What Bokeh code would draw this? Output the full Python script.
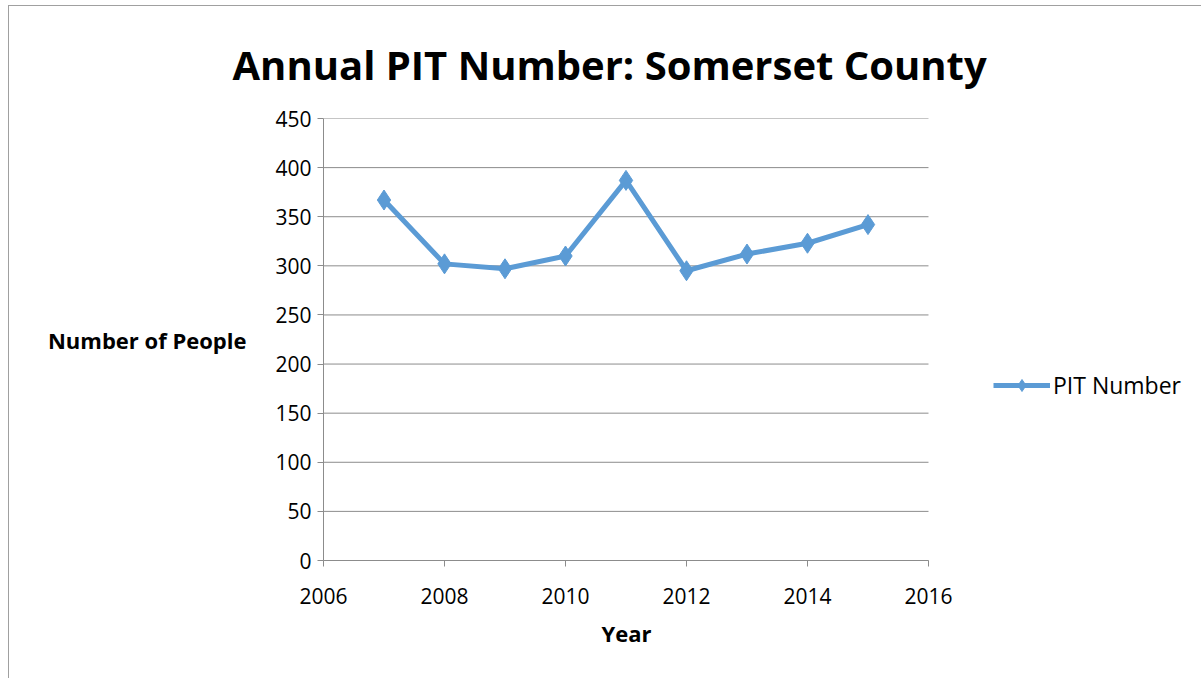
from bokeh.plotting import figure
from bokeh.models import Range1d, Legend, LegendItem, FixedTicker, Title
from bokeh.embed import file_html
from bokeh.resources import INLINE

years = [2007, 2008, 2009, 2010, 2011, 2012, 2013, 2014, 2015]
pit_number = [367, 302, 297, 310, 387, 295, 312, 323, 342]
x_ticks = [2006, 2008, 2010, 2012, 2014, 2016]
y_ticks = [0, 50, 100, 150, 200, 250, 300, 350, 400, 450]

FONT = "Open Sans"
BLUE = "#5B9BD5"
GRID = "#8c8c8c"

X0, X1 = x_ticks[0], x_ticks[-1]
# frame is widened to the right so that the legend can sit beside the plot area
X_EXT = X1 + 4.496

p = figure(width=1193, height=673, output_backend="svg", toolbar_location=None,
           x_range=Range1d(X0, X_EXT), y_range=Range1d(y_ticks[0], y_ticks[-1]),
           min_border_left=314, min_border_right=2, min_border_top=112, min_border_bottom=119)
p.styles = {"margin-left": "8px", "margin-top": "5px",
            "border-left": "1px solid #a0a0a0", "border-top": "1px solid #a0a0a0"}

p.title.text = "Annual PIT Number: Somerset County"
p.title.text_font = FONT
p.title.text_font_size = "40px"
p.title.text_font_style = "bold"
p.title.text_color = "#000000"
p.title.align = "left"
p.title.offset = -91
try:
    p.title.standoff = 54
except Exception:
    pass

p.outline_line_color = None
p.xgrid.grid_line_color = None
p.ygrid.grid_line_color = None

# horizontal gridlines limited to the axis extent
p.segment(x0=[X0] * len(y_ticks), x1=[X1] * len(y_ticks), y0=y_ticks, y1=y_ticks,
          line_color=GRID, line_width=1, level="underlay")

for ax in (p.xaxis, p.yaxis):
    ax.axis_line_color = GRID
    ax.major_tick_line_color = GRID
    ax.minor_tick_line_color = None
    ax.major_label_text_font = FONT
    ax.major_label_text_font_size = "21px"
    ax.major_label_text_color = "#000000"
    ax.major_tick_out = 6
    ax.major_tick_in = 0
    ax.axis_label_text_font = FONT
    ax.axis_label_text_font_size = "22px"
    ax.axis_label_text_font_style = "bold"
    ax.axis_label_text_color = "#000000"

p.xaxis.bounds = (X0, X1)
p.xaxis.ticker = FixedTicker(ticks=x_ticks)
p.yaxis.ticker = FixedTicker(ticks=y_ticks)
p.xaxis.major_label_standoff = 21
p.yaxis.major_label_standoff = 6

# x-axis title, placed under the bounded axis
year_title = Title(text="Year", text_font=FONT, text_font_size="22px",
                   text_font_style="bold", text_color="#000000",
                   align="left", offset=278)
try:
    year_title.standoff = 18
except Exception:
    pass
p.add_layout(year_title, "below")

p.yaxis.axis_label = "Number of People"
p.yaxis.axis_label_standoff = 26
try:
    p.yaxis.axis_label_orientation = "horizontal"
except Exception:
    pass

r_line = p.line(years, pit_number, line_color=BLUE, line_width=5)
r_pts = p.scatter(years, pit_number, marker="diamond", size=20, fill_color=BLUE,
                  line_color=BLUE)

legend = Legend(items=[LegendItem(label="PIT Number", renderers=[r_line, r_pts])],
                location=(670, 159), border_line_color=None, background_fill_alpha=0,
                label_text_font=FONT, label_text_font_size="23px", label_text_color="#000000",
                glyph_width=57, glyph_height=30, label_height=30,
                padding=0, margin=0, label_standoff=3)
p.add_layout(legend, "center")

open("out.html", "w").write(file_html(p, INLINE))
